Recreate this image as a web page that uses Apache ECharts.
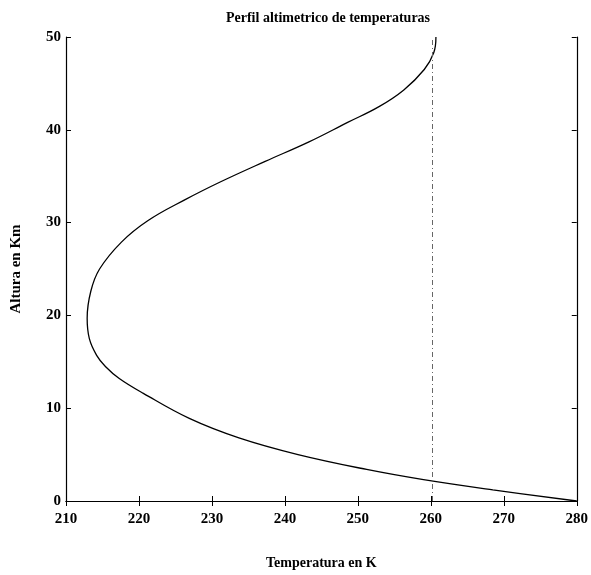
<!DOCTYPE html>
<html>
<head>
<meta charset="utf-8">
<script src="https://cdn.jsdelivr.net/npm/echarts@6/dist/echarts.min.js"></script>
<style>
  html, body { margin: 0; padding: 0; background: #fff; }
  #chart { width: 591px; height: 575px; }
</style>
</head>
<body>
<div id="chart"></div>
<script>
// altitude (km) and temperature (K)
const altitudes = [0, 1.2, 2.3, 3.4, 5.0, 6.8, 8.9, 11.6, 13.2, 14.5, 15.7, 17.5, 19.7, 22.6, 25.0,
  27.9, 30.2, 32.5, 34.4, 36.6, 38.7, 40.8, 42.5, 44.3, 46.5, 48.3, 50];
const temperatures = [280, 268.5, 259.0, 251.2, 241.8, 233.7, 226.9, 220.6, 217.3, 215.4, 214.2, 213.2, 212.9, 213.4, 214.6,
  217.6, 221.2, 226.4, 231.2, 237.3, 243.3, 248.6, 252.9, 256.3, 259.1, 260.4, 260.7];
const refLineTemp = 260.2;

const font = 'Liberation Serif';
const myChart = echarts.init(document.getElementById('chart'));

const frameAxis = {
  axisLine: {show: true, lineStyle: {color: '#000', width: 1.2}},
  axisTick: {show: true, inside: true, length: 5, lineStyle: {color: '#000'}},
  splitLine: {show: false}
};

const option = {
  animation: false,
  backgroundColor: '#fff',
  title: {
    text: 'Perfil altimetrico de temperaturas',
    left: 323,
    textAlign: 'center',
    top: 6,
    textStyle: {fontFamily: font, fontSize: 14, fontWeight: 'bold', color: '#000'}
  },
  grid: {left: 66, right: 10, top: 37, bottom: 71.5},
  xAxis: [
    {
      type: 'value', min: 210, max: 280, interval: 10, position: 'bottom',
      name: 'Temperatura en K', nameLocation: 'middle', nameGap: 55,
      nameTextStyle: {fontFamily: font, fontSize: 14, fontWeight: 'bold', color: '#000'},
      axisLabel: {fontFamily: font, fontSize: 15, fontWeight: 'bold', color: '#000', margin: 11},
      ...frameAxis
    },
    {
      type: 'value', min: 210, max: 280, interval: 10, position: 'top',
      axisLabel: {show: false},
      ...frameAxis
    }
  ],
  yAxis: [
    {
      type: 'value', min: 0, max: 50, interval: 10, position: 'left',
      name: 'Altura en Km', nameLocation: 'middle', nameGap: 42,
      nameTextStyle: {fontFamily: font, fontSize: 15, fontWeight: 'bold', color: '#000'},
      axisLabel: {fontFamily: font, fontSize: 15, fontWeight: 'bold', color: '#000', margin: 5},
      ...frameAxis
    },
    {
      type: 'value', min: 0, max: 50, interval: 10, position: 'right',
      axisLabel: {show: false},
      ...frameAxis
    }
  ],
  series: [
    {
      type: 'line',
      smooth: 0.4,
      showSymbol: false,
      lineStyle: {color: '#000', width: 1.3},
      data: altitudes.map((h, i) => [temperatures[i], h]),
      markLine: {
        silent: true,
        symbol: 'none',
        label: {show: false},
        lineStyle: {color: '#666', width: 1, type: [5, 3, 1, 3]},
        data: [{xAxis: refLineTemp}]
      }
    }
  ]
};
myChart.setOption(option);
</script>
</body>
</html>
